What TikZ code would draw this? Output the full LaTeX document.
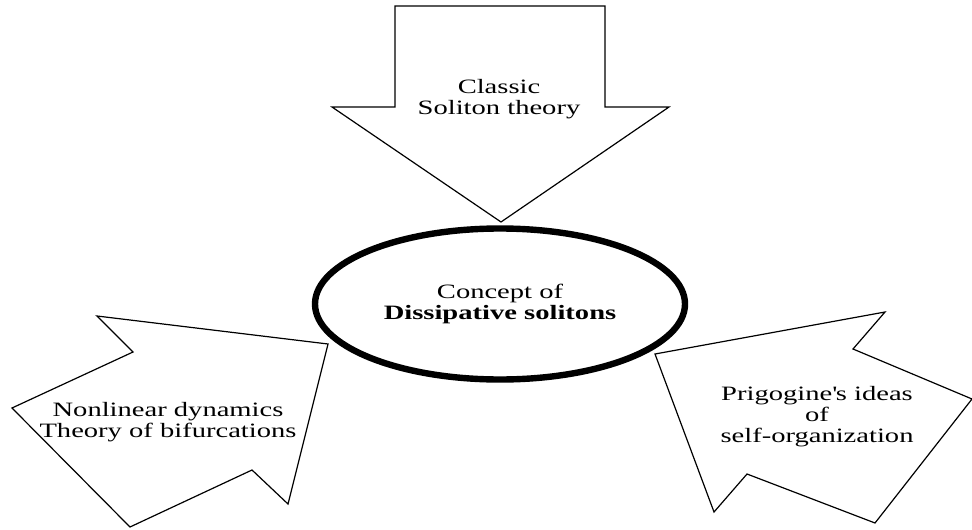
\documentclass[tikz,border=0pt]{standalone}
\usepackage{fontspec}
\setmainfont[FakeStretch=1.4]{Liberation Serif}
\usetikzlibrary{shapes.geometric}
\begin{document}
\begin{tikzpicture}[x=0.5pt,y=-0.5pt]
\tikzstyle{every node}=[font=\fontsize{10.2}{10.5}\selectfont, align=center]
\tikzstyle{bigarrow}=[draw, line width=0.6pt, fill=white, line join=miter]

% page size
\useasboundingbox (0,0) rectangle (972,529);

% top arrow
\draw [bigarrow] (395,6) -- (605,6) -- (605,107) -- (669,107) -- (501,222) -- (332,107) -- (395,107) -- cycle;

% left arrow
\draw [bigarrow] (97,316) -- (328,344) -- (288,504) -- (252,470) -- (130,527) -- (12,408) -- (133,352) -- cycle;

% right arrow
\draw [bigarrow] (655,354) -- (885,312) -- (853,349) -- (972,399) -- (875,523) -- (747,474) -- (714,512) -- cycle;

% labels of the arrows
\node (classic) at (499,99) {Classic\\Soliton theory};
\node (nonlinear) at (168,422) {Nonlinear dynamics\\Theory of bifurcations};
\node (prigogine) at (817,417) {Prigogine\textquotesingle s ideas\\of\\self-organization};

% centre
\node (concept) [ellipse, draw, line width=3.2pt, minimum width=185pt, minimum height=75.5pt, inner sep=0pt] at (500,304) {Concept of\\\textbf{Dissipative solitons}};

\end{tikzpicture}
\end{document}
